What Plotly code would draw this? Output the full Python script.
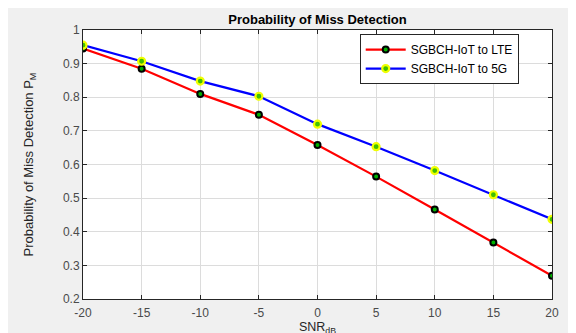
import plotly.graph_objects as go

snr = [-20, -15, -10, -5, 0, 5, 10, 15, 20]
pm_lte = [0.945, 0.885, 0.810, 0.748, 0.658, 0.564, 0.466, 0.368, 0.269]
pm_5g = [0.955, 0.907, 0.848, 0.803, 0.720, 0.653, 0.582, 0.510, 0.437]
x_ticks = [-20, -15, -10, -5, 0, 5, 10, 15, 20]
x_tick_text = ["-20", "-15", "-10", "-5", "0", "5", "10", "15", "20"]
y_ticks = [0.2, 0.3, 0.4, 0.5, 0.6, 0.7, 0.8, 0.9, 1]
y_tick_text = ["0.2", "0.3", "0.4", "0.5", "0.6", "0.7", "0.8", "0.9", "1"]

FONT = "Liberation Sans, Arial, sans-serif"

fig = go.Figure()
fig.add_trace(go.Scatter(
    x=snr, y=pm_lte, mode="lines+markers", name="SGBCH-IoT to LTE",
    line=dict(color="#ff0000", width=2.2),
    marker=dict(size=6, color="#00b000", line=dict(color="black", width=2)),
))
fig.add_trace(go.Scatter(
    x=snr, y=pm_5g, mode="lines+markers", name="SGBCH-IoT to 5G",
    line=dict(color="#0000ff", width=2.2),
    marker=dict(size=7, color="#40c000", line=dict(color="#f0ff00", width=2.2)),
))

axis_common = dict(
    showline=True, linecolor="#262626", linewidth=1, mirror="ticks",
    ticks="inside", ticklen=4, tickcolor="#262626",
    showgrid=True, gridcolor="#dcdcdc", gridwidth=1, zeroline=False,
    tickfont=dict(family=FONT, size=12, color="#4a4a4a"),
)

fig.update_layout(
    width=576, height=333,
    margin=dict(l=75, r=32, t=22, b=36),
    paper_bgcolor="#f0f0f0", plot_bgcolor="white",
    title=dict(text="<b>Probability of Miss Detection</b>", x=0.5, xanchor="center",
               y=0.965, yanchor="middle", xref="paper",
               font=dict(family=FONT, size=13, color="black")),
    xaxis=dict(range=[-20, 20], tickvals=x_ticks, ticktext=x_tick_text, ticklabelstandoff=3,
               **axis_common,
               title=dict(text="SNR<sub>dB</sub>", standoff=0,
                          font=dict(family=FONT, size=12.5, color="#262626"))),
    yaxis=dict(range=[0.2, 1], tickvals=y_ticks, ticktext=y_tick_text, **axis_common,
               title=dict(text="Probability of Miss Detection P<sub>M</sub>", standoff=26,
                          font=dict(family=FONT, size=13, color="#262626"))),
    legend=dict(x=0.59, y=0.985, xanchor="left", yanchor="top",
                bgcolor="white", bordercolor="#262626", borderwidth=1,
                font=dict(family=FONT, size=12, color="black"),
                itemwidth=40, tracegroupgap=0),
    showlegend=True,
)

fig.write_html("out.html")
